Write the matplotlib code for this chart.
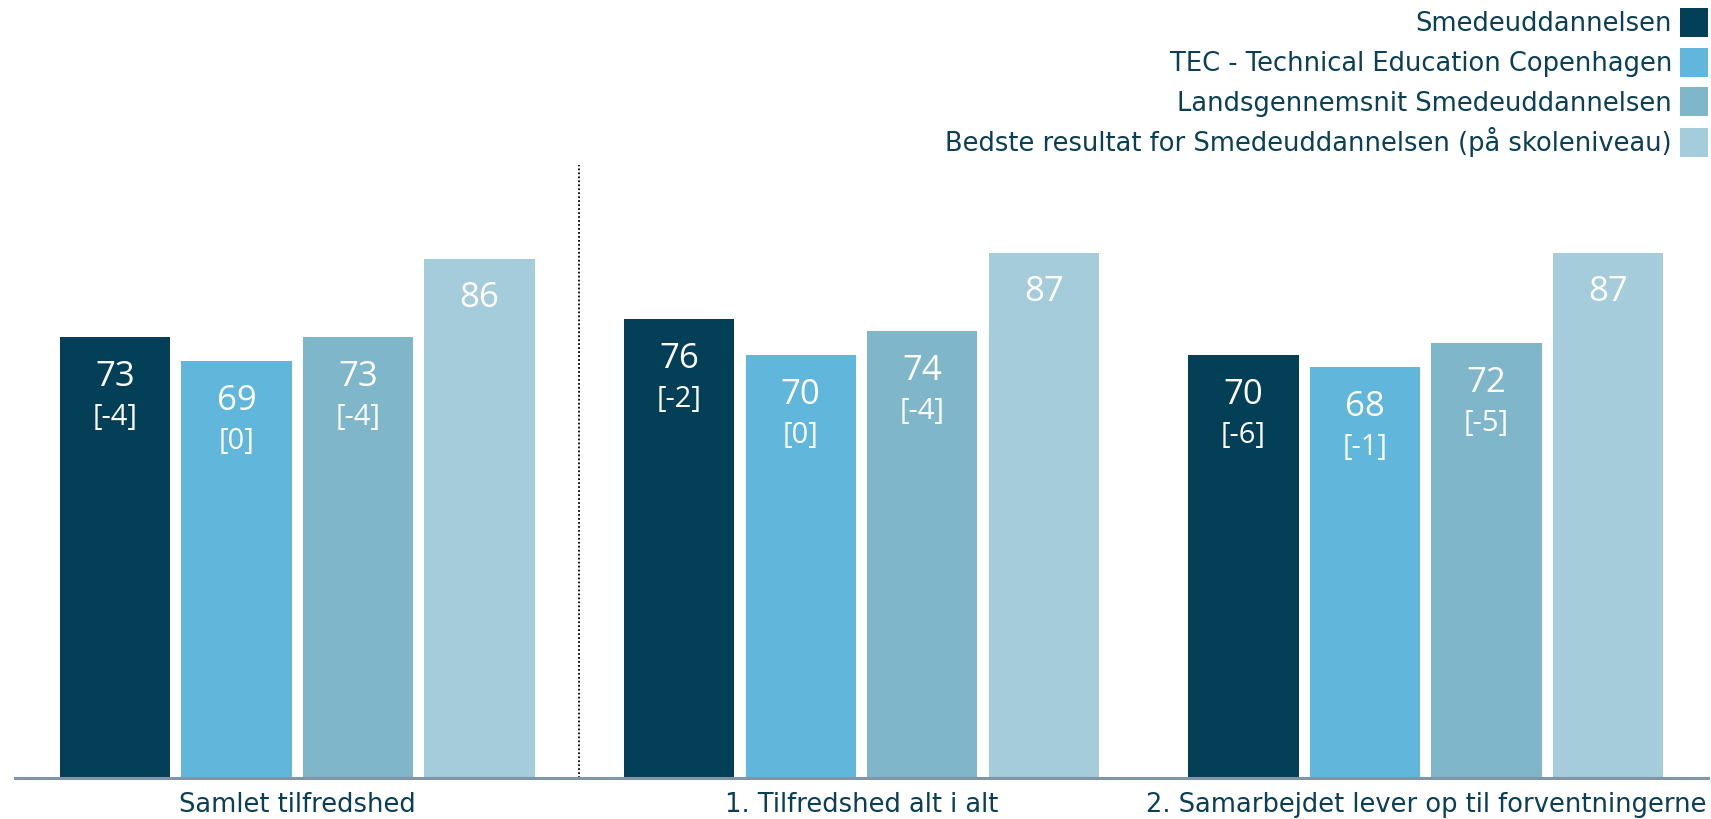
import matplotlib.pyplot as plt
import numpy as np

categories = ["Samlet tilfredshed", "1. Tilfredshed alt i alt", "2. Samarbejdet lever op til forventningerne"]
series = [
    "Smedeuddannelsen",
    "TEC - Technical Education Copenhagen",
    "Landsgennemsnit Smedeuddannelsen",
    "Bedste resultat for Smedeuddannelsen (på skoleniveau)",
]
smed = [73, 76, 70]
tec = [69, 70, 68]
lands = [73, 74, 72]
bedste = [86, 87, 87]
smed_diff = ["[-4]", "[-2]", "[-6]"]
tec_diff = ["[0]", "[0]", "[-1]"]
lands_diff = ["[-4]", "[-4]", "[-5]"]
bedste_diff = [None, None, None]

colors = ["#033f57", "#60b6db", "#80b6ca", "#a5ccda"]
text_color = "#0a3f55"

plt.rcParams["font.family"] = ["DejaVu Sans"]

fig = plt.figure(figsize=(17.11, 8.19), dpi=100)
ax = fig.add_axes([15 / 1711, 1 - 778 / 819, (1708 - 15) / 1711, (778 - 165) / 819])

x = np.arange(len(categories)) + 0.5
pitch = 0.2153
width = 0.1954
values = [smed, tec, lands, bedste]
diffs = [smed_diff, tec_diff, lands_diff, bedste_diff]

handles = []
for i, (vals, dl, col, name) in enumerate(zip(values, diffs, colors, series)):
    pos = x + (i - 1.5) * pitch
    bars = ax.bar(pos, vals, width=width, color=col, label=name)
    handles.append(bars)
    for xp, v, d in zip(pos, vals, dl):
        ax.annotate(str(v), (xp, v), xytext=(0, -35), textcoords="offset points",
                    ha="center", va="baseline", color="white", fontsize=25,
                    family=["Open Sans", "DejaVu Sans"])
        if d:
            # change vs. last year
            ax.annotate(d, (xp, v), xytext=(0, -63), textcoords="offset points",
                        ha="center", va="baseline", color="white", fontsize=21,
                        family=["Open Sans", "DejaVu Sans"])

ax.set_xlim(0, 3)
ax.set_ylim(0, 101.5)
ax.axvline(1, color="black", linestyle=(0, (1, 1.2)), linewidth=1.3)

for s in ["top", "right", "left"]:
    ax.spines[s].set_visible(False)
ax.spines["bottom"].set_color("#8096a8")
ax.spines["bottom"].set_linewidth(2.2)
ax.set_yticks([])
ax.set_xticks(x)
ax.set_xticklabels(categories, fontsize=18.5, color=text_color)
ax.tick_params(axis="x", length=0, pad=10)

fig.legend(handles=handles, loc="upper right", bbox_to_anchor=(1708 / 1711, 1 - 8 / 819),
           frameon=False, markerfirst=False, fontsize=18.5, handlelength=1.1, handleheight=1.36,
           handletextpad=0.3, labelspacing=0.415, borderpad=0, borderaxespad=0, labelcolor=text_color)

fig.savefig("out.png", dpi=100)
